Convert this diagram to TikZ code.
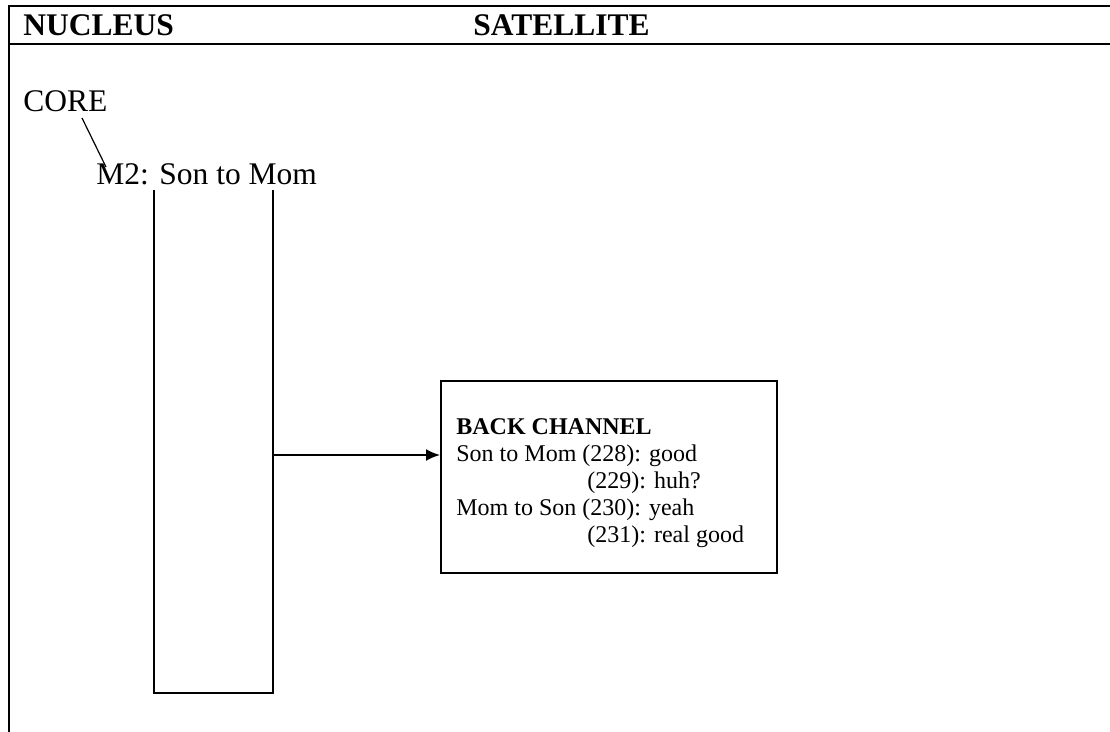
\documentclass[tikz,border=0pt]{standalone}
\usepackage{fontspec}
\setmainfont{Liberation Serif}
\usetikzlibrary{arrows.meta}

\begin{document}
\begin{tikzpicture}[
		x=0.5pt, y=-0.5pt,
		frame/.style={draw=black,line width=1pt},
		bigtext/.style={anchor=base west,inner sep=0pt,font=\fontsize{15.75}{18}\selectfont},
		smalltext/.style={anchor=base west,inner sep=0pt,font=\fontsize{12}{13.5}\selectfont},
		bar/.style={draw=black,line width=0.8pt},
		pointer/.style={-{Latex[length=7pt,width=6pt]},line width=1pt}
	]
		\useasboundingbox (0,0) rectangle (1110,732);
		\draw[frame] (1110,6.5) -- (9,6.5) -- (9,732);
		\draw[frame] (9,44) -- (1110,44);
		\node[bigtext] (nucleus) at (23,36) {\textbf{NUCLEUS}};
		\node[bigtext] (satellite) at (473,36) {\textbf{SATELLITE}};
		\node[bigtext] (core) at (23,112) {CORE};
		\node[bigtext] (m2) at (96,185) {M2: Son to Mom};
		\draw[line width=0.6pt] ([shift={(59,6)}]core.base west)
			-- ([shift={(10,-18)}]m2.base west);
		\draw[bar] (154,190) -- (154,693) -- (273,693) -- (273,190);
		\coordinate (m2out) at (273,455);
		\node[frame,minimum width=168pt,minimum height=96pt] (box) at (609,477) {};
		\node[smalltext] (bc1) at (456,435) {\textbf{BACK CHANNEL}};
		\node[smalltext] (bc2) at (456,462) {Son to Mom (228): good};
		\node[smalltext] (bc3) at (587,489) {(229): huh?};
		\node[smalltext] (bc4) at (456,516) {Mom to Son (230): yeah};
		\node[smalltext] (bc5) at (587,543) {(231): real good};
		\draw[pointer] (m2out) -- (m2out -| box.west);
	\end{tikzpicture}
\end{document}
